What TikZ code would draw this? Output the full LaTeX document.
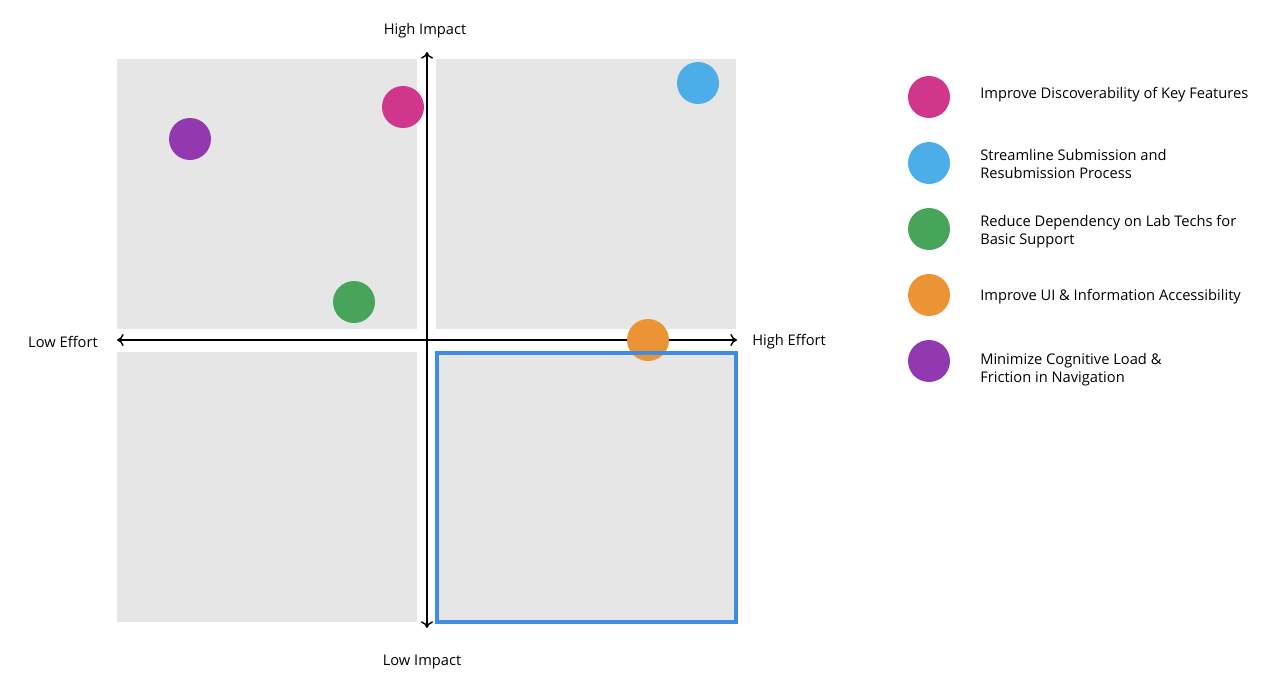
\documentclass[tikz,border=0pt]{standalone}
\usepackage{fontspec}
\setmainfont{Open Sans}
\usetikzlibrary{arrows.meta}
\definecolor{quadgray}{HTML}{E6E6E6}
\definecolor{selblue}{HTML}{418CE3}
\definecolor{cmag}{HTML}{CF368C}
\definecolor{cblue}{HTML}{4DADE8}
\definecolor{cgreen}{HTML}{48A459}
\definecolor{corange}{HTML}{EC9336}
\definecolor{cpurple}{HTML}{9339B0}
\begin{document}
\begin{tikzpicture}[x=0.75pt,y=-0.75pt,
  quad/.style={fill=quadgray,draw=none,minimum width=300*0.75pt,minimum height=270*0.75pt,inner sep=0,anchor=north west},
  dot/.style={circle,fill=#1,draw=none,minimum size=42*0.75pt,inner sep=0},
  lbl/.style={font=\fontsize{11}{13.5}\selectfont,inner sep=0},
  leg/.style={font=\fontsize{11}{13.5}\selectfont,inner sep=0,anchor=west,align=left},
  axis/.style={line width=1.1pt,{To[length=5pt,width=9pt]}-{To[length=5pt,width=9pt]}}]
\useasboundingbox (0,0) rectangle (1288,686);
% quadrants
\node[quad] (tl) at (117,59) {};
\node[quad] (tr) at (436,59) {};
\node[quad] (bl) at (117,352) {};
\node[quad] (br) at (436,352) {};
% axes
\coordinate (xl) at (117,340);
\coordinate (xr) at (737,340);
\coordinate (yt) at (427,52);
\coordinate (yb) at (427,628);
\draw[axis] (xl) -- (xr);
\draw[axis] (yt) -- (yb);
% axis labels
\node[lbl] (hi) at (425,31) {High Impact};
\node[lbl] (li) at (422,662) {Low Impact};
\node[lbl,anchor=east] (le) at (98,342) {Low Effort};
\node[lbl,anchor=west] (he) at (752,342) {High Effort};
% points
\node[dot=cmag] (p1) at (403,107) {};
\node[dot=cpurple] (p5) at (190,139) {};
\node[dot=cgreen] (p3) at (354,302) {};
\node[dot=cblue] (p2) at (698,83) {};
\node[dot=corange] (p4) at (648,340) {};
% selected quadrant border (over the points)
\draw[selblue,line width=3pt] (br.north west) ++(1,1) rectangle (736,622);
% legend
\node[dot=cmag] (l1) at (929,97) {};
\node[dot=cblue] (l2) at (929,163) {};
\node[dot=cgreen] (l3) at (929,229) {};
\node[dot=corange] (l4) at (929,295) {};
\node[dot=cpurple] (l5) at (929,361) {};
\node[leg] (t1) at (980,94.5) {Improve Discoverability of Key Features};
\node[leg] (t2) at (980,163.5) {Streamline Submission and\\Resubmission Process};
\node[leg] (t3) at (980,231.5) {Reduce Dependency on Lab Techs for\\Basic Support};
\node[leg] (t4) at (980,296.5) {Improve UI \& Information Accessibility};
\node[leg] (t5) at (980,369.5) {Minimize Cognitive Load \&\\Friction in Navigation};
\end{tikzpicture}
\end{document}
